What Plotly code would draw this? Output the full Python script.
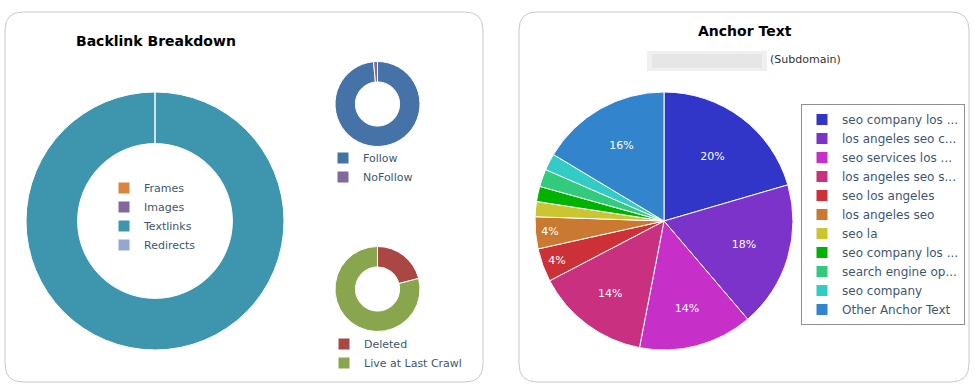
import plotly.graph_objects as go

W, H = 975, 391

# ---- data ----
type_labels = ["Frames", "Images", "Textlinks", "Redirects"]
type_values = [0, 0, 100, 0]
type_colors = ["#DB843D", "#80699B", "#3D96AE", "#92A8CD"]

follow_labels = ["Follow", "NoFollow"]
follow_values = [98.5, 1.5]
follow_colors = ["#4572A7", "#80699B"]

status_labels = ["Deleted", "Live at Last Crawl"]
status_values = [21, 79]
status_colors = ["#AA4643", "#89A54E"]

# the two truncated "seo company los ..." entries are different anchors;
# a zero-width space keeps them as separate slices
anchor_labels = ["seo company los ...", "los angeles seo c...", "seo services los ...",
                 "los angeles seo s...", "seo los angeles", "los angeles seo", "seo la",
                 "seo company los ...\u200b", "search engine op...", "seo company",
                 "Other Anchor Text"]
anchor_values = [20.5, 18.3, 14.3, 14.3, 4.2, 4.0, 1.9, 1.9, 2.2, 2.1, 16.4]
anchor_colors = ["#3236C8", "#7B33C9", "#C630C8", "#C9307F", "#CB3137", "#C97932",
                 "#CBC532", "#00B300", "#32CB7E", "#32CBC6", "#3284CC"]


def px(x):
    return x / W


def py(y):
    return 1 - y / H


def dom(cx, cy, r):
    return dict(x=[px(cx - r), px(cx + r)], y=[py(cy + r), py(cy - r)])


LEG_FONT = dict(family="DejaVu Sans", size=11, color="#3E576F")

fig = go.Figure()

fig.add_trace(go.Pie(
    labels=type_labels, values=type_values, hole=0.6, sort=False,
    direction="clockwise", rotation=0, textinfo="none", hoverinfo="label+percent",
    marker=dict(colors=type_colors, line=dict(color="white", width=1)),
    domain=dom(155, 221, 129), legend="legend",
))
fig.add_trace(go.Pie(
    labels=follow_labels, values=follow_values, hole=0.52, sort=False,
    direction="clockwise", rotation=0, textinfo="none",
    marker=dict(colors=follow_colors, line=dict(color="white", width=1)),
    domain=dom(377.5, 104, 42.5), legend="legend2",
))
fig.add_trace(go.Pie(
    labels=status_labels, values=status_values, hole=0.52, sort=False,
    direction="clockwise", rotation=0, textinfo="none",
    marker=dict(colors=status_colors, line=dict(color="white", width=1)),
    domain=dom(377.5, 289, 42.5), legend="legend3",
))

tot = sum(anchor_values)
anchor_text = [f"{round(v / tot * 100)}%" if v / tot >= 0.035 else "" for v in anchor_values]
fig.add_trace(go.Pie(
    labels=anchor_labels, values=anchor_values, sort=False,
    direction="clockwise", rotation=0, text=anchor_text, textinfo="text",
    textposition="inside", insidetextorientation="horizontal",
    textfont=dict(family="DejaVu Sans", size=11, color="white"),
    marker=dict(colors=anchor_colors, line=dict(color="white", width=1)),
    domain=dom(664, 221, 129), legend="legend4",
))


# panels (rounded rectangles)
def rounded(x0, y0, x1, y1, r):
    X0, X1 = px(x0), px(x1)
    Y0, Y1 = py(y0), py(y1)
    rx, ry = r / W, r / H
    return (f"M{X0+rx},{Y0} L{X1-rx},{Y0} Q{X1},{Y0} {X1},{Y0-ry} "
            f"L{X1},{Y1+ry} Q{X1},{Y1} {X1-rx},{Y1} L{X0+rx},{Y1} "
            f"Q{X0},{Y1} {X0},{Y1+ry} L{X0},{Y0-ry} Q{X0},{Y0} {X0+rx},{Y0} Z")


shapes = [
    dict(type="path", xref="paper", yref="paper", path=rounded(5, 12, 483, 382, 18),
         line=dict(color="#C8C8C8", width=1), layer="below"),
    dict(type="path", xref="paper", yref="paper", path=rounded(519, 12, 969, 382, 18),
         line=dict(color="#C8C8C8", width=1), layer="below"),
    # blurred (redacted) domain name
    dict(type="rect", xref="paper", yref="paper", x0=px(647), x1=px(767), y0=py(71), y1=py(51),
         fillcolor="#F0F0F0", line=dict(width=0), layer="below"),
    dict(type="rect", xref="paper", yref="paper", x0=px(652), x1=px(762), y0=py(68), y1=py(54),
         fillcolor="#E6E6E6", line=dict(width=0), layer="below"),
]

annotations = [
    dict(text="<b>Backlink Breakdown</b>", x=px(155.5), y=py(41), xref="paper", yref="paper",
         showarrow=False, xanchor="center", yanchor="middle",
         font=dict(family="DejaVu Sans", size=14, color="black")),
    dict(text="<b>Anchor Text</b>", x=px(745), y=py(31), xref="paper", yref="paper",
         showarrow=False, xanchor="center", yanchor="middle",
         font=dict(family="DejaVu Sans", size=14, color="black")),
    dict(text="(Subdomain)", x=px(768), y=py(60), xref="paper", yref="paper",
         showarrow=False, xanchor="left", yanchor="middle",
         font=dict(family="DejaVu Sans", size=11, color="#333333")),
]


def leg(x, y, border=False, size=11):
    d = dict(x=px(x), y=py(y), xanchor="left", yanchor="top",
             font=dict(LEG_FONT, size=size),
             bgcolor="rgba(0,0,0,0)", itemclick=False, itemdoubleclick=False,
             tracegroupgap=0)
    if border:
        d.update(bordercolor="#909090", borderwidth=1, bgcolor="white")
    return d


fig.update_layout(
    width=W, height=H, autosize=False,
    margin=dict(l=0, r=0, t=0, b=0),
    paper_bgcolor="white", plot_bgcolor="white",
    showlegend=True,
    legend=leg(104, 173.5),
    legend2=leg(323, 143.5),
    legend3=leg(324, 329.5),
    legend4=leg(801, 104, border=True, size=12),
    shapes=shapes, annotations=annotations,
)

fig.write_html("out.html", config={"displayModeBar": False},
               post_script="document.body.style.margin='0';")
